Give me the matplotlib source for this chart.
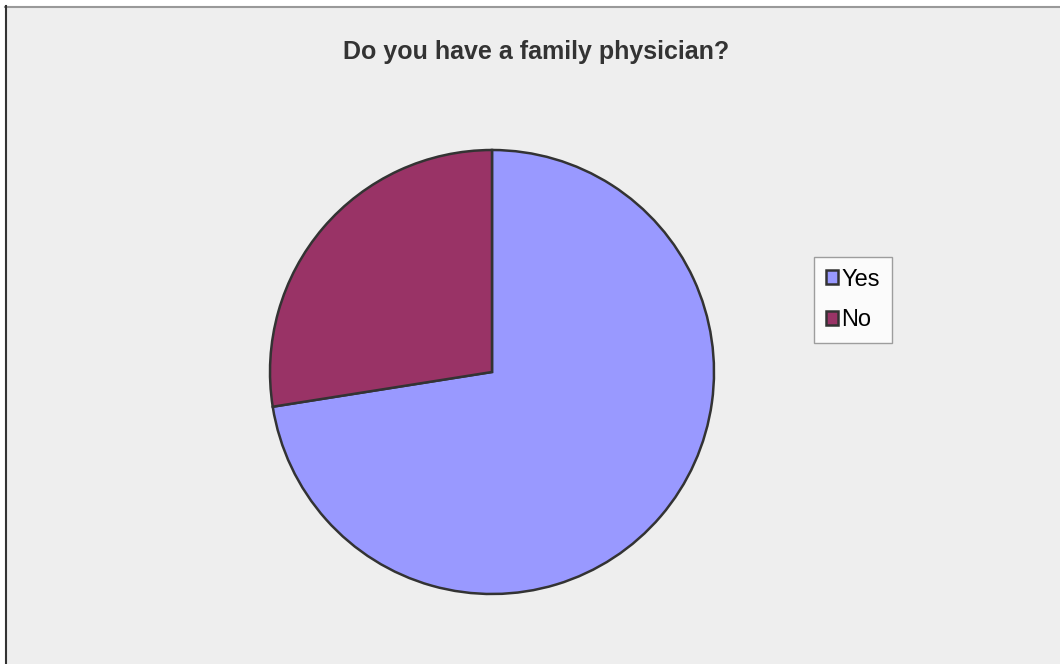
import matplotlib
matplotlib.use('Agg')
import matplotlib.pyplot as plt
from matplotlib.patches import Rectangle, Patch
from matplotlib.lines import Line2D

labels = ['Yes', 'No']
values = [72.5, 27.5]
colors = ['#9999FF', '#993366']

plt.rcParams['font.family'] = ['Liberation Sans', 'DejaVu Sans']

fig = plt.figure(figsize=(10.6, 6.64), dpi=100)
fig.patch.set_facecolor('white')

# chart area background, runs off the right and bottom edges
W, H = 1060, 664
fig.patches.append(Rectangle((5 / W, 0), 1, 1 - 6 / H, transform=fig.transFigure,
                             facecolor='#EEEEEE', edgecolor='none', zorder=-2))
fig.lines.append(Line2D([5 / W, 1], [1 - 6.5 / H, 1 - 6.5 / H], transform=fig.transFigure,
                        color='#999999', linewidth=1.5, zorder=-1))
fig.lines.append(Line2D([5.5 / W, 5.5 / W], [0, 1 - 6 / H], transform=fig.transFigure,
                        color='#333333', linewidth=1.5, zorder=-1))

ax = fig.add_axes([270 / W, 69 / H, 444 / W, 446 / H])
ax.set_zorder(2)
ax.pie(values, colors=colors, startangle=90, counterclock=False,
       wedgeprops=dict(edgecolor='#333333', linewidth=1.8))
ax.set_xlim(-1.0, 1.0)
ax.set_ylim(-1.0, 1.0)
ax.set_aspect('equal')
ax.axis('off')

fig.text(536 / W, 1 - 52 / H, 'Do you have a family physician?',
         ha='center', va='center', fontsize=18, fontweight='bold', color='#333333')

handles = [Patch(facecolor=c, edgecolor='#333333', linewidth=1.8) for c in colors]
leg = fig.legend(handles, labels, loc='center', bbox_to_anchor=(853 / W, 1 - 300 / H),
                 fontsize=17, frameon=True, fancybox=False, handlelength=0.5,
                 handleheight=0.5, handletextpad=0.15, labelspacing=0.8,
                 borderpad=0.5, borderaxespad=0)
leg.set_zorder(3)
leg.get_frame().set_edgecolor('#888888')
leg.get_frame().set_linewidth(1.0)
leg.get_frame().set_facecolor('white')

fig.savefig('out.png', dpi=100, facecolor=fig.get_facecolor())
